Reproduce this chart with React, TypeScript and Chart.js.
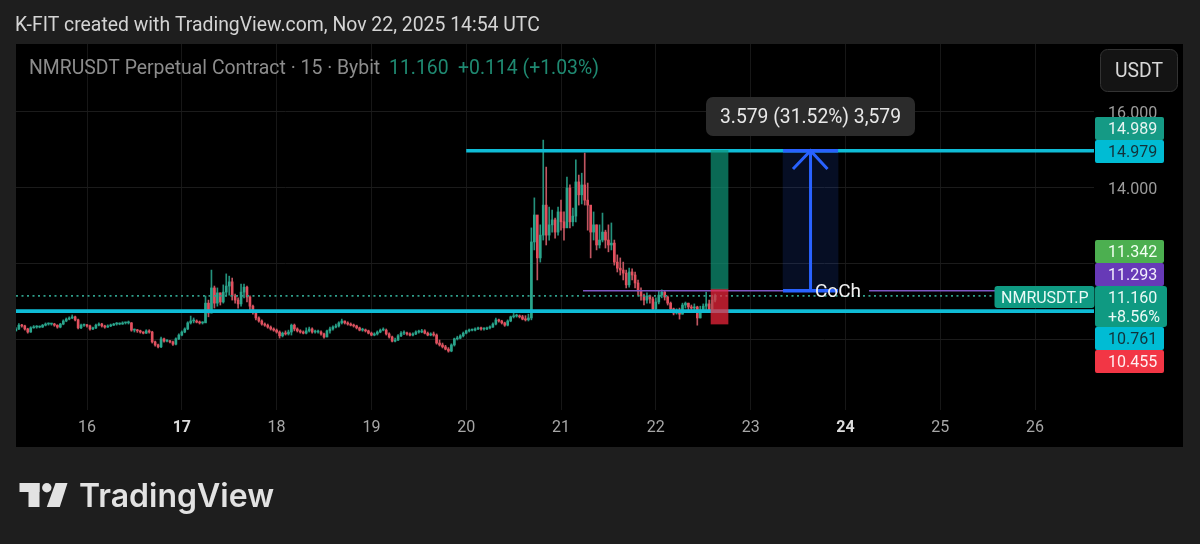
import React, { useEffect, useRef } from "react";
import { Chart, registerables } from "chart.js";

Chart.register(...registerables);

const FONT = "Roboto";

const firstDay = 15.25;
const candlesPerDay = 32;
const firstOpen = 10.24;

const closes = [
  10.29, 10.39, 10.37, 10.29, 10.21, 10.32, 10.34, 10.34, 10.34, 10.39,
  10.42, 10.42, 10.42, 10.39, 10.34, 10.42, 10.50, 10.55, 10.58, 10.61,
  10.53, 10.32, 10.39, 10.39, 10.37, 10.29, 10.32, 10.39, 10.42, 10.37,
  10.34, 10.37, 10.39, 10.42, 10.42, 10.42, 10.45, 10.45, 10.45, 10.26,
  10.26, 10.24, 10.21, 10.18, 10.24, 10.21, 9.95, 9.87, 9.82, 10.03,
  9.97, 9.97, 9.95, 9.89, 10.03, 10.13, 10.21, 10.29, 10.45, 10.50,
  10.50, 10.47, 10.45, 10.45, 10.97, 10.71, 11.37, 10.97, 11.24, 11.00,
  11.26, 11.42, 11.53, 11.16, 11.05, 10.95, 11.26, 11.39, 11.13, 10.89,
  10.74, 10.58, 10.50, 10.42, 10.39, 10.34, 10.29, 10.26, 10.21, 10.11,
  10.18, 10.16, 10.21, 10.39, 10.29, 10.24, 10.21, 10.18, 10.24, 10.29,
  10.21, 10.21, 10.21, 10.16, 10.08, 10.24, 10.29, 10.34, 10.37, 10.45,
  10.50, 10.45, 10.42, 10.39, 10.37, 10.32, 10.26, 10.26, 10.24, 10.18,
  10.13, 10.16, 10.21, 10.26, 10.26, 10.16, 10.08, 9.97, 10.00, 10.11,
  10.18, 10.18, 10.16, 10.13, 10.16, 10.21, 10.21, 10.24, 10.18, 10.13,
  10.16, 10.13, 9.92, 9.87, 9.82, 9.76, 9.71, 9.87, 10.03, 10.05,
  10.11, 10.18, 10.24, 10.26, 10.26, 10.29, 10.32, 10.29, 10.29, 10.32,
  10.34, 10.42, 10.53, 10.50, 10.45, 10.39, 10.50, 10.61, 10.63, 10.63,
  10.61, 10.55, 10.53, 10.58, 12.58, 13.29, 12.16, 12.76, 13.55, 12.76,
  13.03, 13.16, 12.84, 13.37, 13.11, 12.95, 14.00, 13.11, 13.26, 14.16,
  13.82, 14.08, 13.68, 13.55, 12.84, 13.03, 12.50, 12.63, 12.84, 12.63,
  12.50, 12.55, 12.05, 11.89, 11.84, 11.76, 11.45, 11.79, 11.71, 11.50,
  11.29, 11.16, 11.05, 11.16, 11.08, 10.82, 11.00, 11.18, 11.26, 11.13,
  10.97, 10.82, 10.71, 10.74, 10.68, 10.92, 10.97, 10.87, 10.84, 10.87,
  10.58, 10.79, 10.89, 10.95, 10.79, 11.05, 11.16,
];

const highs = [
  10.33, 10.43, 10.41, 10.39, 10.31, 10.35, 10.38, 10.38, 10.37, 10.41,
  10.45, 10.45, 10.44, 10.44, 10.40, 10.44, 10.53, 10.58, 10.61, 10.66,
  10.63, 10.55, 10.42, 10.42, 10.41, 10.39, 10.34, 10.42, 10.45, 10.44,
  10.39, 10.40, 10.42, 10.44, 10.46, 10.45, 10.48, 10.47, 10.50, 10.46,
  10.29, 10.28, 10.26, 10.22, 10.27, 10.27, 10.23, 9.97, 9.89, 10.08,
  10.05, 10.01, 9.99, 9.97, 10.06, 10.16, 10.24, 10.32, 10.48, 10.63,
  10.58, 10.53, 10.50, 10.48, 11.16, 11.05, 11.84, 11.42, 11.37, 11.24,
  11.45, 11.74, 11.68, 11.63, 11.21, 11.11, 11.47, 11.47, 11.42, 11.16,
  10.92, 10.76, 10.61, 10.53, 10.45, 10.42, 10.37, 10.32, 10.29, 10.24,
  10.21, 10.24, 10.26, 10.42, 10.42, 10.32, 10.27, 10.24, 10.32, 10.34,
  10.32, 10.26, 10.26, 10.24, 10.18, 10.26, 10.34, 10.37, 10.42, 10.48,
  10.55, 10.50, 10.48, 10.45, 10.42, 10.39, 10.34, 10.31, 10.29, 10.26,
  10.21, 10.19, 10.24, 10.29, 10.32, 10.29, 10.19, 10.10, 10.05, 10.14,
  10.22, 10.24, 10.21, 10.19, 10.19, 10.24, 10.26, 10.28, 10.27, 10.21,
  10.19, 10.21, 10.16, 10.00, 9.92, 9.86, 9.80, 9.90, 10.05, 10.10,
  10.14, 10.21, 10.26, 10.29, 10.29, 10.32, 10.34, 10.34, 10.32, 10.34,
  10.37, 10.45, 10.58, 10.55, 10.52, 10.47, 10.53, 10.63, 10.70, 10.68,
  10.66, 10.65, 10.64, 10.68, 12.95, 13.74, 12.63, 13.03, 15.26, 14.55,
  13.50, 13.42, 13.21, 13.50, 13.68, 13.37, 14.29, 14.08, 13.47, 14.74,
  14.34, 14.39, 14.92, 14.13, 13.42, 13.37, 13.03, 13.03, 13.34, 12.89,
  13.03, 13.08, 12.63, 12.24, 12.16, 12.05, 11.84, 11.89, 11.87, 11.79,
  11.58, 11.37, 11.21, 11.24, 11.18, 11.13, 11.11, 11.29, 11.32, 11.29,
  11.16, 11.00, 10.84, 10.82, 10.84, 10.97, 11.00, 10.97, 10.92, 10.95,
  10.89, 10.89, 10.95, 11.26, 11.05, 11.18, 11.21,
];

const lows = [
  10.24, 10.27, 10.34, 10.26, 10.18, 10.20, 10.31, 10.31, 10.32, 10.33,
  10.37, 10.39, 10.39, 10.36, 10.31, 10.32, 10.40, 10.48, 10.53, 10.56,
  10.50, 10.29, 10.30, 10.36, 10.34, 10.26, 10.27, 10.30, 10.37, 10.34,
  10.31, 10.33, 10.35, 10.38, 10.39, 10.40, 10.41, 10.42, 10.42, 10.23,
  10.21, 10.20, 10.18, 10.16, 10.17, 10.18, 9.92, 9.84, 9.79, 9.80,
  9.94, 9.95, 9.92, 9.86, 9.87, 10.01, 10.11, 10.19, 10.27, 10.42,
  10.45, 10.45, 10.42, 10.42, 10.47, 10.61, 10.71, 10.84, 10.89, 10.92,
  10.97, 11.16, 11.18, 11.05, 10.97, 10.84, 10.89, 11.11, 11.00, 10.79,
  10.68, 10.53, 10.47, 10.39, 10.36, 10.31, 10.26, 10.23, 10.18, 10.05,
  10.08, 10.13, 10.13, 10.13, 10.24, 10.21, 10.18, 10.16, 10.16, 10.21,
  10.18, 10.18, 10.18, 10.13, 10.05, 10.08, 10.18, 10.26, 10.32, 10.34,
  10.42, 10.42, 10.39, 10.37, 10.34, 10.29, 10.24, 10.23, 10.21, 10.16,
  10.11, 10.11, 10.13, 10.19, 10.24, 10.13, 10.05, 9.95, 9.95, 9.98,
  10.09, 10.14, 10.13, 10.11, 10.11, 10.14, 10.18, 10.19, 10.16, 10.11,
  10.11, 10.10, 9.89, 9.84, 9.79, 9.74, 9.68, 9.69, 9.84, 10.00,
  10.03, 10.08, 10.16, 10.21, 10.24, 10.24, 10.27, 10.26, 10.26, 10.27,
  10.29, 10.33, 10.40, 10.47, 10.42, 10.36, 10.37, 10.48, 10.58, 10.60,
  10.58, 10.53, 10.50, 10.50, 10.53, 12.37, 11.58, 12.05, 12.63, 12.50,
  12.63, 12.84, 12.68, 12.76, 12.89, 12.63, 13.03, 12.95, 13.00, 13.11,
  13.55, 13.58, 13.55, 12.89, 12.16, 12.63, 12.37, 12.42, 12.58, 12.42,
  12.32, 12.37, 11.97, 11.79, 11.71, 11.58, 11.37, 11.39, 11.58, 11.37,
  11.18, 11.05, 10.92, 10.97, 10.97, 10.76, 10.79, 10.95, 11.11, 11.05,
  10.92, 10.74, 10.66, 10.68, 10.55, 10.68, 10.84, 10.79, 10.76, 10.74,
  10.39, 10.58, 10.74, 10.79, 10.74, 10.79, 11.00,
];

const dayTicks = [16, 17, 18, 19, 20, 21, 22, 23, 24, 25, 26];
const boldDays = [17, 24];
const priceTicks = [10, 12, 14, 16];

const xMin = 15.251;
const xMax = 26.622;
const yMin = 8.158;
const yMax = 17.789;

const targetPrice = 14.979;
const supportPrice = 10.761;
const cochPrice = 11.293;
const lastPrice = 11.16;
const stopPrice = 10.455;
const profitPrice = 14.989;
const entryPrice = 11.342;
const stopBoxEdge = 10.42;

const headerText = "K-FIT created with TradingView.com, Nov 22, 2025 14:54 UTC";
const titleText = "NMRUSDT Perpetual Contract · 15 · Bybit";
const lastText = "11.160";
const changeText = "+0.114 (+1.03%)";
const measureText = "3.579 (31.52%) 3,579";

function rr(ctx: CanvasRenderingContext2D, x: number, y: number, w: number, h: number, r: number) {
  ctx.beginPath();
  ctx.roundRect(x, y, w, h, r);
  ctx.closePath();
}

const chrome = {
  id: "chrome",
  beforeDraw(chart: any) {
    const ctx = chart.ctx;
    ctx.save();
    ctx.fillStyle = "#1e1e1e";
    ctx.fillRect(0, 0, 1200, 544);
    ctx.fillStyle = "#000000";
    ctx.fillRect(16, 44, 1167, 403);
    ctx.restore();
  },
  afterDraw(chart: any) {
    const ctx = chart.ctx as CanvasRenderingContext2D;
    ctx.save();
    ctx.textBaseline = "middle";
    ctx.textAlign = "left";

    ctx.font = `19.4px ${FONT}`;
    ctx.fillStyle = "#d4d4d4";
    ctx.fillText(headerText, 15, 26.5);

    ctx.fillStyle = "#8c8c8c";
    ctx.fillText(titleText, 29, 69.5);
    ctx.fillStyle = "#1f8a72";
    ctx.fillText(lastText, 389, 69.5);
    ctx.fillText(changeText, 458, 69.5);

    rr(ctx, 1100.5, 49.5, 77, 42, 7);
    ctx.fillStyle = "#141414";
    ctx.fill();
    ctx.strokeStyle = "#333333";
    ctx.lineWidth = 1;
    ctx.stroke();
    ctx.fillStyle = "#d8d8d8";
    ctx.textAlign = "center";
    ctx.fillText("USDT", 1139, 72);

    rr(ctx, 706, 97, 209, 39, 7);
    ctx.fillStyle = "#2b2b2b";
    ctx.fill();
    ctx.fillStyle = "#e8e8e8";
    ctx.font = `19.3px ${FONT}`;
    ctx.fillText(measureText, 810.5, 118);

    ctx.fillStyle = "#f0f0f0";
    ctx.font = `19px ${FONT}`;
    ctx.fillText("CoCh", 838, 292);

    ctx.textAlign = "left";
    ctx.font = `16px ${FONT}`;
    const tags: [string, number, number, string, string][] = [
      [profitPrice.toFixed(3), 117, 23, "#159a85", "#e6f5f2"],
      [targetPrice.toFixed(3), 140, 23, "#00bcd4", "#12323a"],
      [entryPrice.toFixed(3), 240, 23, "#4caf50", "#f2fff2"],
      [cochPrice.toFixed(3), 263, 23, "#673ab7", "#f2eefc"],
      [supportPrice.toFixed(3), 327, 23, "#00bcd4", "#12323a"],
      [stopPrice.toFixed(3), 350, 23, "#f23645", "#ffeef0"],
    ];
    for (const [txt, y, h, bg, fg] of tags) {
      rr(ctx, 1095, y, 69, h, 2);
      ctx.fillStyle = bg;
      ctx.fill();
      ctx.fillStyle = fg;
      ctx.fillText(txt, 1108, y + h / 2 + 1.5);
    }
    rr(ctx, 1095, 286, 72, 41, 3);
    ctx.fillStyle = "#0f9a82";
    ctx.fill();
    ctx.fillStyle = "#eafaf6";
    ctx.fillText(lastPrice.toFixed(3), 1108, 299);
    ctx.fillText("+8.56%", 1108, 318);

    rr(ctx, 994.5, 286, 100, 22, 3);
    ctx.fillStyle = "#0f9a82";
    ctx.fill();
    ctx.fillStyle = "#eafaf6";
    ctx.fillText("NMRUSDT.P", 1001, 298.5);

    ctx.fillStyle = "#e2e2e2";
    ctx.fillRect(19.5, 483, 20, 9);
    ctx.fillRect(28.5, 483, 11, 24);
    ctx.beginPath();
    ctx.arc(46.8, 487.7, 4.7, 0, Math.PI * 2);
    ctx.fill();
    ctx.beginPath();
    ctx.moveTo(55.5, 483);
    ctx.lineTo(67.5, 483);
    ctx.lineTo(59.8, 507);
    ctx.lineTo(46.8, 507);
    ctx.closePath();
    ctx.fill();
    ctx.font = `600 32px Inter`;
    ctx.fillText("TradingView", 79, 497);
    ctx.restore();
  },
};

export default function App() {
  const ref = useRef<HTMLCanvasElement | null>(null);

  useEffect(() => {
    document.body.style.margin = "0";
    document.body.style.background = "#1e1e1e";
    const canvas = ref.current!;
    const candleX = closes.map((_, i) => firstDay + i / candlesPerDay);
    const opens = closes.map((_, i) => (i === 0 ? firstOpen : closes[i - 1]));
    const candleColor = closes.map((c, i) => (c >= opens[i] ? "#2aa58c" : "#e2505e"));
    const wickColor = closes.map((c, i) => (c >= opens[i] ? "#24917c" : "#bf5560"));

    const line = (pts: number[][], color: string, width: number, order: number, dash: number[] = []) => ({
      type: "line" as const,
      data: pts.map(([x, y]) => ({ x, y })),
      borderColor: color,
      borderWidth: width,
      borderDash: dash,
      pointRadius: 0,
      order,
      tension: 0,
    });
    const box = (x: number, lo: number, hi: number, w: number, color: string, order: number) => ({
      type: "bar" as const,
      data: [{ x, y: [lo, hi] }],
      backgroundColor: color,
      barThickness: w,
      grouped: false,
      borderWidth: 0,
      order,
    });
    const blue = "#2962ff";

    const chart = new Chart(canvas, {
      data: {
        datasets: [
          {
            type: "bar",
            data: closes.map((_, i) => ({ x: candleX[i], y: [lows[i], highs[i]] })),
            backgroundColor: wickColor,
            barThickness: 1,
            grouped: false,
            borderWidth: 0,
            order: 8,
          },
          {
            type: "bar",
            data: closes.map((c, i) => ({ x: candleX[i], y: [opens[i], c] })),
            backgroundColor: candleColor,
            barThickness: 2,
            minBarLength: 1,
            grouped: false,
            borderWidth: 0,
            order: 7,
          },
          line([[xMin, lastPrice], [25.567, lastPrice]], "#2f9f8b", 1.8, 6, [2, 3.5]),
          line([[21.232, cochPrice], [23.679, cochPrice]], "#7e57c2", 1.5, 6),
          line([[24.249, cochPrice], [25.578, cochPrice]], "#7e57c2", 1.5, 6),
          line([[xMin, supportPrice], [xMax, supportPrice]], "#0fbcd6", 3.6, 5),
          line([[20, targetPrice], [xMax, targetPrice]], "#0fbcd6", 3.6, 5),
          box(22.672, entryPrice, profitPrice, 17, "rgba(14,150,120,0.7)", 4),
          box(22.672, stopBoxEdge, entryPrice, 17, "rgba(242,38,60,0.72)", 4),
          box(23.632, cochPrice, targetPrice, 55, "rgba(41,98,255,0.14)", 4),
          line([[23.632, targetPrice], [23.632, cochPrice]], blue, 3, 3),
          line([[23.447, 14.5], [23.632, targetPrice], [23.811, 14.5]], blue, 3, 3),
          line([[23.342, targetPrice], [23.922, targetPrice]], blue, 3.5, 3),
          line([[23.342, cochPrice], [23.922, cochPrice]], blue, 3.5, 3),
        ] as any,
      },
      options: {
        responsive: false,
        animation: false,
        devicePixelRatio: 1,
        layout: { padding: { left: 16, top: 44, right: 0, bottom: 0 } },
        plugins: { legend: { display: false }, tooltip: { enabled: false } },
        scales: {
          x: {
            type: "linear",
            min: xMin,
            max: xMax,
            offset: false,
            afterFit: (s: any) => { s.height = 134; },
            afterBuildTicks: (s: any) => { s.ticks = dayTicks.map((value) => ({ value })); },
            grid: { color: "#171717", lineWidth: 1, drawTicks: false, offset: false },
            border: { display: false },
            ticks: {
              autoSkip: false,
              maxRotation: 0,
              padding: 8,
              color: (c: any) => (boldDays.includes(c.tick?.value) ? "#dcdcdc" : "#a6a6a6"),
              font: (c: any) => ({
                family: FONT,
                size: 16,
                weight: boldDays.includes(c.tick?.value) ? "bold" : "normal",
              }),
              callback: (v: any) => String(v),
            },
          },
          y: {
            type: "linear",
            position: "right",
            min: yMin,
            max: yMax,
            afterFit: (s: any) => { s.width = 106; },
            afterBuildTicks: (s: any) => { s.ticks = priceTicks.map((value) => ({ value })); },
            grid: { color: "#1b1b1b", lineWidth: 1, drawTicks: false },
            border: { display: false },
            ticks: {
              crossAlign: "near",
              padding: 14,
              labelOffset: 2,
              color: "#9c9c9c",
              font: { family: FONT, size: 16 },
              callback: (v: any) => Number(v).toFixed(3),
            },
          },
        },
      } as any,
      plugins: [chrome],
    });
    return () => chart.destroy();
  }, []);

  return (
    <div style={{ position: "fixed", left: 0, top: 0, width: 1200, height: 544 }}>
      <canvas ref={ref} width={1200} height={544} style={{ display: "block", width: 1200, height: 544 }} />
    </div>
  );
}
